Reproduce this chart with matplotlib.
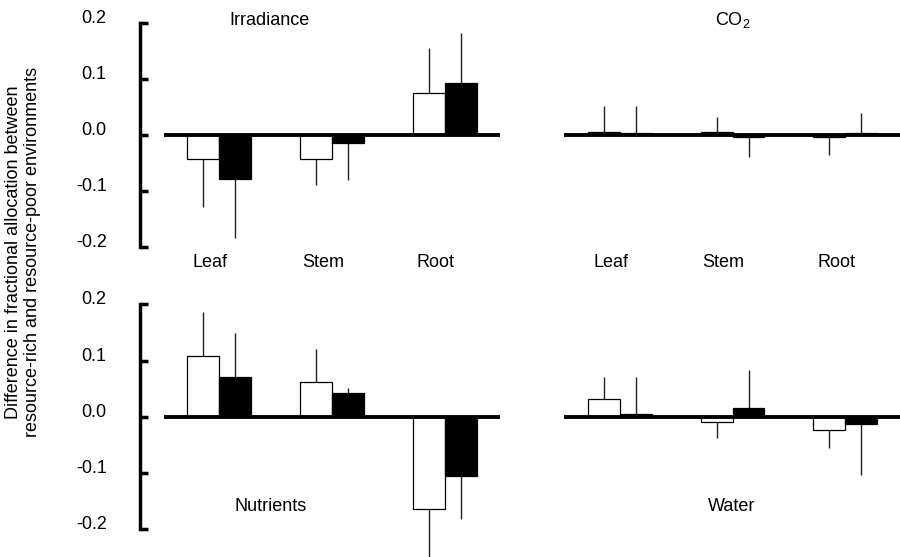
import matplotlib
matplotlib.use("Agg")
import matplotlib.pyplot as plt
import matplotlib.transforms as mtransforms
import numpy as np

plt.rcParams["font.family"] = ["Liberation Sans", "DejaVu Sans"]
plt.rcParams["mathtext.fontset"] = "custom"
plt.rcParams["mathtext.rm"] = "Liberation Sans"

organs = ["Leaf", "Stem", "Root"]
y_ticks = [-0.2, -0.1, 0.0, 0.1, 0.2]
tick_labels = ["-0.2", "-0.1", "0.0", "0.1", "0.2"]

# mean difference and SE, open = first group, filled = second group
irr_open = [-0.043, -0.043, 0.075]
irr_open_se = [0.086, 0.047, 0.080]
irr_fill = [-0.079, -0.015, 0.093]
irr_fill_se = [0.105, 0.066, 0.089]

co2_open = [0.005, 0.005, -0.003]
co2_open_se = [0.047, 0.028, 0.032]
co2_fill = [0.003, -0.004, 0.003]
co2_fill_se = [0.049, 0.036, 0.037]

nut_open = [0.109, 0.062, -0.164]
nut_open_se = [0.078, 0.059, 0.100]
nut_fill = [0.071, 0.043, -0.105]
nut_fill_se = [0.079, 0.009, 0.077]

wat_open = [0.032, -0.009, -0.023]
wat_open_se = [0.039, 0.028, 0.032]
wat_fill = [0.005, 0.016, -0.012]
wat_fill_se = [0.066, 0.068, 0.091]

W = 900 / 100
H = 557 / 100
fig = plt.figure(figsize=(W, H), dpi=100)


def px_axes(x0, x1, y_top, y_bot):
    return fig.add_axes([x0 / 900, 1 - y_bot / 557, (x1 - x0) / 900, (y_bot - y_top) / 557])


def one_sided(vals, se):
    vals = np.array(vals)
    se = np.array(se)
    lower = np.where(vals < 0, se, 0)
    upper = np.where(vals >= 0, se, 0)
    return [lower, upper]


def draw_panel(ax, open_vals, open_se, fill_vals, fill_se, left_axis, zero_from):
    x = np.arange(len(organs))
    w = 0.284
    ax.bar(x - w / 2, open_vals, w, color="white", edgecolor="black", linewidth=0.9, zorder=2)
    ax.bar(x + w / 2, fill_vals, w, color="black", edgecolor="black", linewidth=0.9, zorder=2)
    ax.errorbar(x - w / 2, open_vals, yerr=one_sided(open_vals, open_se), fmt="none",
                ecolor="#222222", elinewidth=1.0, capsize=0, zorder=1)
    ax.errorbar(x + w / 2, fill_vals, yerr=one_sided(fill_vals, fill_se), fmt="none",
                ecolor="#222222", elinewidth=1.0, capsize=0, zorder=1)
    ax.hlines(0, zero_from, ax.get_xlim()[1], color="black", linewidth=2.8, zorder=3)
    for s in ["top", "right", "bottom"]:
        ax.spines[s].set_visible(False)
    ax.set_xticks([])
    if left_axis:
        ax.spines["left"].set_bounds(-0.2, 0.2)
        ax.spines["left"].set_linewidth(2.5)
        ax.set_yticks(y_ticks)
        ax.set_yticklabels(tick_labels)
        ax.tick_params(axis="y", direction="in", length=6, width=2.5, pad=24, labelsize=13)
        offset = mtransforms.ScaledTranslation(0, 0.065, fig.dpi_scale_trans)
        for lab in ax.get_yticklabels():
            lab.set_transform(lab.get_transform() + offset)
    else:
        ax.spines["left"].set_visible(False)
        ax.set_yticks([])


ax1 = px_axes(140, 500, 6.2, 263.8)
ax1.set_xlim(-0.70, 2.49)
ax1.set_ylim(-0.23, 0.23)
draw_panel(ax1, irr_open, irr_open_se, irr_fill, irr_fill_se, True, -0.49)

ax2 = px_axes(564, 900, 6.2, 263.8)
ax2.set_xlim(-0.496, 2.487)
ax2.set_ylim(-0.23, 0.23)
draw_panel(ax2, co2_open, co2_open_se, co2_fill, co2_fill_se, False, -0.496)

ax3 = px_axes(140, 500, 287.6, 556.5)
ax3.set_xlim(-0.70, 2.49)
ax3.set_ylim(-0.248, 0.23)
draw_panel(ax3, nut_open, nut_open_se, nut_fill, nut_fill_se, True, -0.49)

ax4 = px_axes(564, 900, 287.6, 556.5)
ax4.set_xlim(-0.496, 2.487)
ax4.set_ylim(-0.248, 0.23)
draw_panel(ax4, wat_open, wat_open_se, wat_fill, wat_fill_se, False, -0.496)

# organ labels under the top panels
for ax in [ax1, ax2]:
    for i, name in enumerate(organs):
        ax.text(i - 0.08, -0.228, name, ha="center", va="center", fontsize=13)

ax1.text(0.45, 0.205, "Irradiance", ha="center", va="center", fontsize=13)
ax2.text(1.0, 0.205, r"CO$_\mathregular{2}$", ha="center", va="center", fontsize=13)
ax3.text(0.46, -0.16, "Nutrients", ha="center", va="center", fontsize=13)
ax4.text(0.99, -0.16, "Water", ha="center", va="center", fontsize=13)

fig.text(0.026, 1 - 252 / 557,
         "Difference in fractional allocation between\nresource-rich and resource-poor environments",
         rotation=90, ha="center", va="center", multialignment="center", fontsize=13,
         linespacing=1.15)

fig.savefig("out.png", dpi=100)
